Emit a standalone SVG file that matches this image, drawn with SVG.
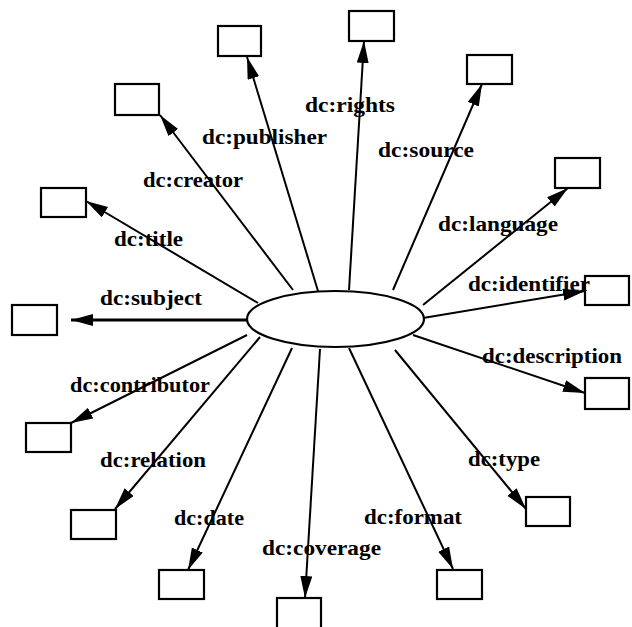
<svg xmlns="http://www.w3.org/2000/svg" width="632" height="627" viewBox="0 0 632 627">
<style>
.box{fill:#fff;stroke:#000;stroke-width:2.2}
.edge{fill:none;stroke:#000;stroke-width:2;marker-end:url(#arr)}
.lbl{font-family:"Liberation Serif","Times New Roman",serif;font-size:21px;font-weight:bold;fill:#000}
</style>
<defs>
<marker id="arr" markerUnits="userSpaceOnUse" markerWidth="24" markerHeight="14" refX="22" refY="6" orient="auto">
<path d="M0,0 L22,6 L0,12 Z" fill="#000"/>
</marker>
</defs>
<rect width="632" height="627" fill="#fff"/>
<g id="connectors">
<line class="edge" x1="349" y1="290" x2="364" y2="41"/>
<line class="edge" x1="318" y1="291" x2="247" y2="57"/>
<line class="edge" x1="293" y1="290" x2="160" y2="115"/>
<line class="edge" x1="258" y1="303" x2="86" y2="201"/>
<line class="edge" x1="247" y1="320" x2="71" y2="320" style="stroke-width:3"/>
<line class="edge" x1="247" y1="335" x2="71" y2="423"/>
<line class="edge" x1="260" y1="337" x2="115" y2="509"/>
<line class="edge" x1="292" y1="348" x2="188" y2="570"/>
<line class="edge" x1="320" y1="349" x2="305" y2="598"/>
<line class="edge" x1="349" y1="348" x2="453" y2="569"/>
<line class="edge" x1="395" y1="350" x2="526" y2="509"/>
<line class="edge" x1="413" y1="335" x2="585" y2="393"/>
<line class="edge" x1="423" y1="318" x2="585" y2="291"/>
<line class="edge" x1="423" y1="305" x2="568" y2="188"/>
<line class="edge" x1="393" y1="290" x2="482" y2="84"/>
</g>
<g id="center"><ellipse cx="335.5" cy="319" rx="88.5" ry="28" fill="#fff" stroke="#000" stroke-width="2.2"/></g>
<g id="n-rights"><rect class="box" x="349" y="11" width="45" height="30"/></g>
<g id="n-publisher"><rect class="box" x="218" y="26" width="43" height="30"/></g>
<g id="n-creator"><rect class="box" x="115" y="84" width="44" height="31"/></g>
<g id="n-title"><rect class="box" x="41" y="188" width="45" height="29"/></g>
<g id="n-subject"><rect class="box" x="12" y="305" width="45" height="30"/></g>
<g id="n-contributor"><rect class="box" x="26" y="423" width="45" height="29"/></g>
<g id="n-relation"><rect class="box" x="71" y="510" width="45" height="29"/></g>
<g id="n-date"><rect class="box" x="159" y="570" width="45" height="29"/></g>
<g id="n-coverage"><rect class="box" x="277" y="598" width="44" height="32"/></g>
<g id="n-format"><rect class="box" x="437" y="570" width="45" height="29"/></g>
<g id="n-type"><rect class="box" x="526" y="497" width="44" height="29"/></g>
<g id="n-description"><rect class="box" x="585" y="378" width="44" height="31"/></g>
<g id="n-identifier"><rect class="box" x="585" y="276" width="44" height="29"/></g>
<g id="n-language"><rect class="box" x="555" y="158" width="45" height="30"/></g>
<g id="n-source"><rect class="box" x="467" y="55" width="45" height="29"/></g>
<g id="labels">
<text class="lbl" x="305" y="112" textLength="90" lengthAdjust="spacingAndGlyphs">dc:rights</text>
<text class="lbl" x="202" y="144" textLength="125" lengthAdjust="spacingAndGlyphs">dc:publisher</text>
<text class="lbl" x="143" y="187" textLength="100" lengthAdjust="spacingAndGlyphs">dc:creator</text>
<text class="lbl" x="114" y="246" textLength="69" lengthAdjust="spacingAndGlyphs">dc:title</text>
<text class="lbl" x="100" y="305" textLength="102" lengthAdjust="spacingAndGlyphs">dc:subject</text>
<text class="lbl" x="70" y="392" textLength="140" lengthAdjust="spacingAndGlyphs">dc:contributor</text>
<text class="lbl" x="100" y="467" textLength="106" lengthAdjust="spacingAndGlyphs">dc:relation</text>
<text class="lbl" x="174" y="525" textLength="70" lengthAdjust="spacingAndGlyphs">dc:date</text>
<text class="lbl" x="262" y="555" textLength="119" lengthAdjust="spacingAndGlyphs">dc:coverage</text>
<text class="lbl" x="364" y="524" textLength="98" lengthAdjust="spacingAndGlyphs">dc:format</text>
<text class="lbl" x="468" y="466" textLength="72" lengthAdjust="spacingAndGlyphs">dc:type</text>
<text class="lbl" x="482" y="363" textLength="140" lengthAdjust="spacingAndGlyphs">dc:description</text>
<text class="lbl" x="468" y="291" textLength="122" lengthAdjust="spacingAndGlyphs">dc:identifier</text>
<text class="lbl" x="438" y="231" textLength="120" lengthAdjust="spacingAndGlyphs">dc:language</text>
<text class="lbl" x="378" y="157" textLength="96" lengthAdjust="spacingAndGlyphs">dc:source</text>
</g>
</svg>
